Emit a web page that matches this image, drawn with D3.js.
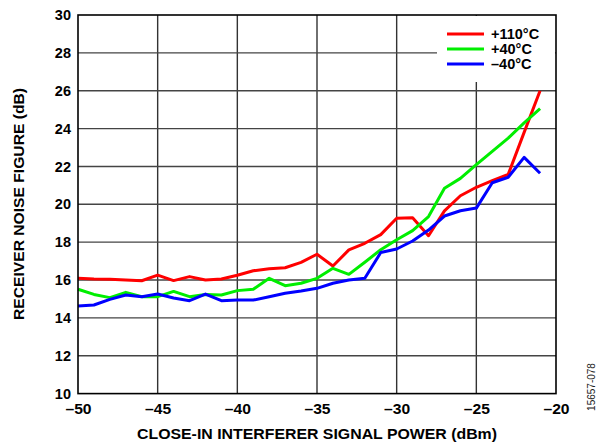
<!DOCTYPE html>
<html>
<head>
<meta charset="utf-8">
<script src="https://cdn.jsdelivr.net/npm/d3@7"></script>
<style>
  html, body { margin: 0; padding: 0; background: #fff; }
  svg { display: block; font-family: Arial, "Liberation Sans", sans-serif; }
</style>
</head>
<body>
<svg id="chart" width="600" height="445"></svg>
<script>
// Interferer power sweep (dBm) and noise figure (dB) at three temperatures
const power = [-50, -49, -48, -47, -46, -45, -44, -43, -42, -41,
               -40, -39, -38, -37, -36, -35, -34, -33, -32, -31,
               -30, -29, -28, -27, -26, -25, -24, -23, -22, -21];
const nf110 = [16.09, 16.05, 16.04, 16.0, 15.96, 16.26, 15.97, 16.18, 16.0, 16.05,
               16.25, 16.49, 16.6, 16.65, 16.93, 17.36, 16.74, 17.59, 17.94, 18.4,
               19.26, 19.29, 18.34, 19.65, 20.45, 20.9, 21.25, 21.58, 23.8, 26.0];
const nf40 = [15.51, 15.24, 15.07, 15.35, 15.12, 15.12, 15.4, 15.12, 15.24, 15.21,
              15.44, 15.51, 16.09, 15.7, 15.83, 16.09, 16.62, 16.3, 16.94, 17.6,
              18.13, 18.61, 19.35, 20.85, 21.37, 22.1, 22.8, 23.5, 24.3, 25.05];
const nfm40 = [14.63, 14.68, 14.98, 15.21, 15.12, 15.26, 15.05, 14.91, 15.26, 14.91,
               14.94, 14.94, 15.12, 15.3, 15.42, 15.56, 15.83, 16.0, 16.09, 17.45,
               17.64, 18.06, 18.64, 19.38, 19.66, 19.8, 21.14, 21.43, 22.48, 21.64];
const seriesNames = ["+110°C", "+40°C", "\u201340°C"];
const seriesColors = ["#ff0000", "#00ee00", "#0000ff"];
const xTicks = [-50, -45, -40, -35, -30, -25, -20];
const yTicks = [10, 12, 14, 16, 18, 20, 22, 24, 26, 28, 30];

const svg = d3.select("#chart");
const plot = { left: 78, right: 556, top: 15, bottom: 393.6 };

const x = d3.scaleLinear().domain([-50, -20]).range([plot.left, plot.right]);
const y = d3.scaleLinear().domain([10, 30]).range([plot.bottom, plot.top]);
const fmt = v => String(v).replace("-", "\u2013");

// grid
const grid = svg.append("g");
grid.selectAll(".gx").data(xTicks.slice(1, -1)).enter().append("line")
  .attr("x1", d => x(d)).attr("x2", d => x(d))
  .attr("y1", plot.top).attr("y2", plot.bottom)
  .attr("stroke", "#333").attr("stroke-width", 1.4);
grid.selectAll(".gy").data(yTicks.slice(1, -1)).enter().append("line")
  .attr("x1", plot.left).attr("x2", plot.right)
  .attr("y1", d => y(d)).attr("y2", d => y(d))
  .attr("stroke", "#444").attr("stroke-width", 1.4);

// legend backdrop hides the grid behind it
svg.append("rect").attr("x", 437).attr("y", plot.top + 1)
  .attr("width", plot.right - 437 - 1).attr("height", 66).attr("fill", "#fff");

// series
const series = [nf110, nf40, nfm40];
const line = d3.line().x((d, i) => x(power[i])).y(d => y(d));
series.forEach((vals, k) => {
  svg.append("path").datum(vals)
    .attr("d", line)
    .attr("fill", "none")
    .attr("stroke", seriesColors[k])
    .attr("stroke-width", 3)
    .attr("stroke-linejoin", "round");
});

// frame
svg.append("rect").attr("x", plot.left).attr("y", plot.top)
  .attr("width", plot.right - plot.left).attr("height", plot.bottom - plot.top)
  .attr("fill", "none").attr("stroke", "#000").attr("stroke-width", 1.6);

// axes
const xAxis = svg.append("g").attr("transform", `translate(0,${plot.bottom})`)
  .call(d3.axisBottom(x).tickValues(xTicks).tickSize(0).tickPadding(10).tickFormat(fmt));
const yAxis = svg.append("g").attr("transform", `translate(${plot.left},0)`)
  .call(d3.axisLeft(y).tickValues(yTicks).tickSize(0).tickPadding(7).tickFormat(fmt));
[xAxis, yAxis].forEach(a => {
  a.select(".domain").remove();
  a.selectAll("text").attr("font-size", 14.5).attr("font-weight", "bold")
    .attr("fill", "#000").attr("font-family", "Arial, 'Liberation Sans', sans-serif");
});
xAxis.selectAll("text").attr("textLength", function () {
  return this.getComputedTextLength() * 1.08;
}).attr("lengthAdjust", "spacingAndGlyphs");

// legend
const leg = svg.append("g");
seriesNames.forEach((name, k) => {
  const ly = 34 + k * 15;
  leg.append("line").attr("x1", 447).attr("x2", 484).attr("y1", ly).attr("y2", ly)
    .attr("stroke", seriesColors[k]).attr("stroke-width", 3);
  leg.append("text").attr("x", 491).attr("y", ly + 5)
    .attr("font-size", 14.5).attr("font-weight", "bold").text(name);
});

// axis titles
svg.append("text").attr("x", 317).attr("y", 439)
  .attr("text-anchor", "middle").attr("font-size", 14.5).attr("font-weight", "bold")
  .attr("textLength", 360).attr("lengthAdjust", "spacingAndGlyphs")
  .text("CLOSE-IN INTERFERER SIGNAL POWER (dBm)");
svg.append("text")
  .attr("transform", "translate(24,204) rotate(-90)")
  .attr("text-anchor", "middle").attr("font-size", 14.5).attr("font-weight", "bold")
  .attr("textLength", 232).attr("lengthAdjust", "spacingAndGlyphs")
  .text("RECEIVER NOISE FIGURE (dB)");
svg.append("text")
  .attr("transform", "translate(595,387) rotate(-90)")
  .attr("text-anchor", "middle").attr("font-size", 10).attr("fill", "#222")
  .text("15657-078");
</script>
</body>
</html>
